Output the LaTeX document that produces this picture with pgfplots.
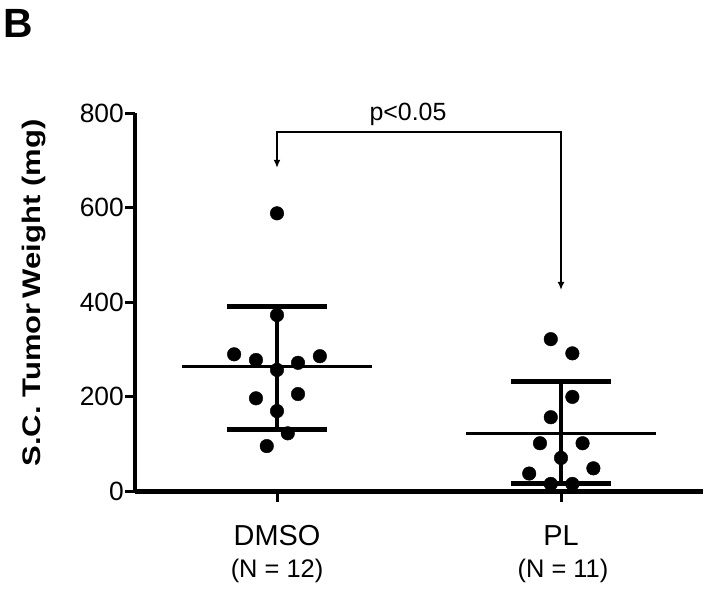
\documentclass[border=0pt]{standalone}
\usepackage{fontspec}
\setmainfont{Liberation Sans}
\usepackage{pgfplots}
\pgfplotsset{compat=1.18}
\usetikzlibrary{arrows.meta}
\begin{document}
\begin{tikzpicture}
\path[use as bounding box] (0,0) rectangle (712bp,-590bp);
\begin{axis}[
  at={(135bp,-491.5bp)}, anchor=south west, scale only axis,
  width=568bp, height=378.5bp,
  xmin=-0.5, xmax=1.5, ymin=0, ymax=800,
  axis x line=bottom, axis y line=left,
  axis line style={-, line width=4.5bp, black},
  xtick={0,1}, xticklabels={,},
  ytick={0,200,400,600,800},
  tick style={line width=3bp, black},
  major tick length=10bp, tick align=outside,
  /pgf/number format/assume math mode=true,
  yticklabel style={font=\fontsize{26.5}{30}\selectfont, inner sep=1bp},
  clip=false,
]
% error bars and means
\addplot[black, line width=4.5bp] coordinates {(0,132) (0,391)};
\addplot[black, line width=5bp] coordinates {(-0.175,391) (0.175,391)};
\addplot[black, line width=5bp] coordinates {(-0.175,132) (0.175,132)};
\addplot[black, line width=3bp] coordinates {(-0.333,264) (0.333,264)};
\addplot[black, line width=4.5bp] coordinates {(1,16) (1,232)};
\addplot[black, line width=5bp] coordinates {(0.825,232) (1.175,232)};
\addplot[black, line width=5bp] coordinates {(0.825,16) (1.175,16)};
\addplot[black, line width=3bp] coordinates {(0.667,123) (1.333,123)};
% points
\addplot[only marks, mark=*, mark size=6.8bp, black] coordinates {
 (0,588) (0,373) (-0.151,290) (-0.074,278) (0,257) (0.074,272) (0.151,286)
 (-0.074,197) (0.074,206) (0,170) (0.038,123) (-0.036,96)};
\addplot[only marks, mark=*, mark size=6.8bp, black] coordinates {
 (0.964,322) (1.040,292) (1.040,200) (0.964,157) (0.926,102) (1.076,102)
 (1.0,71) (0.888,38) (1.114,49) (0.964,16) (1.040,16)};
% significance bracket
\draw[line width=1.8bp, {Latex[length=8bp,width=7bp]}-{Latex[length=8bp,width=7bp]}]
  (axis cs:1,426) -- (axis cs:1,760.5) -- (axis cs:0,760.5) -- (axis cs:0,684);
\end{axis}
\node[anchor=base, font=\fontsize{25}{28}\selectfont] at (408bp,-120bp) {p<0.05};
\node[anchor=base west, inner sep=0pt, font=\fontsize{41}{44}\selectfont\bfseries] at (3bp,-37bp) {B};
\node[anchor=base, font=\fontsize{29}{32}\selectfont] at (277bp,-545bp) {DMSO};
\node[anchor=base, font=\fontsize{25.5}{28}\selectfont] at (277bp,-577bp) {(N = 12)};
\node[anchor=base, font=\fontsize{29}{32}\selectfont] at (561bp,-545bp) {PL};
\node[anchor=base, font=\fontsize{25.5}{28}\selectfont] at (563bp,-577bp) {(N = 11)};
\node[rotate=90, anchor=base, inner sep=0pt] at (40bp,-293bp)
  {\scalebox{1.22}[1]{\fontsize{25.5}{28}\selectfont\bfseries S.C. Tumor\,Weight (mg)}};
\end{tikzpicture}
\end{document}
